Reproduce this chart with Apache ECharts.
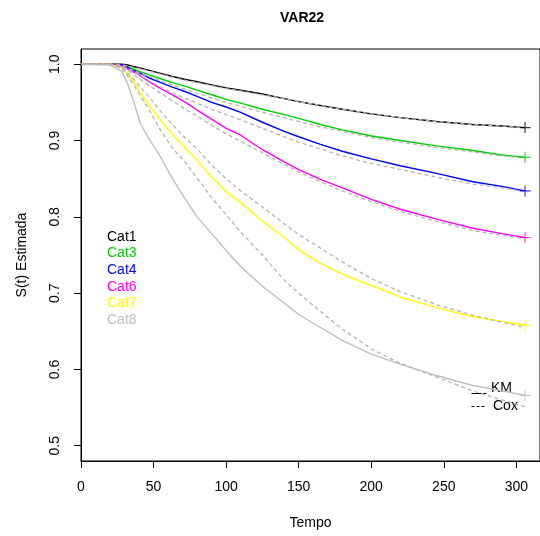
<!DOCTYPE html>
<html>
<head>
<meta charset="utf-8">
<script src="https://cdn.jsdelivr.net/npm/echarts@6/dist/echarts.min.js"></script>
<style>
html,body{margin:0;padding:0;background:#fff;}
#chart{width:540px;height:536px;}
</style>
</head>
<body>
<div id="chart"></div>
<script>
// ---- data ----
const titulo = 'VAR22';
const categorias = ['Cat1', 'Cat3', 'Cat4', 'Cat6', 'Cat7', 'Cat8'];
const cores = ['#000000', '#00CD00', '#0000FF', '#FF00FF', '#FFFF00', '#BEBEBE'];
const xTicks = [0, 50, 100, 150, 200, 250, 300];
const yTicks = [0.5, 0.6, 0.7, 0.8, 0.9, 1.0];
const tempo = [0, 20, 28, 32, 36, 41, 47, 55, 63, 72, 80, 90, 100, 110, 125, 140, 150, 165, 180, 200, 220, 245, 270, 290, 306];

// Kaplan-Meier (solid)
const km_Cat1 = [1, 1, 1.0, 0.999, 0.997, 0.995, 0.992, 0.988, 0.984, 0.980, 0.977, 0.973, 0.969, 0.966, 0.961, 0.955, 0.951, 0.946, 0.941, 0.935, 0.930, 0.925, 0.921, 0.919, 0.917];
const km_Cat3 = [1, 1, 0.999, 0.997, 0.994, 0.990, 0.986, 0.981, 0.976, 0.971, 0.966, 0.960, 0.954, 0.949, 0.941, 0.934, 0.929, 0.921, 0.914, 0.906, 0.900, 0.893, 0.887, 0.881, 0.878];
const km_Cat4 = [1, 1, 0.999, 0.996, 0.992, 0.988, 0.982, 0.976, 0.970, 0.964, 0.958, 0.950, 0.944, 0.937, 0.924, 0.912, 0.905, 0.895, 0.886, 0.876, 0.867, 0.857, 0.846, 0.840, 0.834];
const km_Cat6 = [1, 1, 0.998, 0.994, 0.990, 0.985, 0.977, 0.968, 0.960, 0.950, 0.940, 0.928, 0.916, 0.907, 0.888, 0.872, 0.862, 0.849, 0.838, 0.823, 0.810, 0.797, 0.785, 0.778, 0.773];
const km_Cat7 = [1, 1, 0.995, 0.987, 0.978, 0.962, 0.945, 0.926, 0.908, 0.890, 0.874, 0.852, 0.833, 0.819, 0.794, 0.773, 0.757, 0.739, 0.725, 0.710, 0.695, 0.681, 0.669, 0.663, 0.658];
const km_Cat8 = [1, 0.999, 0.991, 0.975, 0.953, 0.922, 0.902, 0.878, 0.850, 0.823, 0.800, 0.778, 0.756, 0.735, 0.709, 0.687, 0.672, 0.655, 0.638, 0.620, 0.607, 0.592, 0.579, 0.572, 0.566];

// Cox model (dashed grey)
const cox_Cat1 = [1, 1, 0.999, 0.998, 0.996, 0.994, 0.991, 0.987, 0.983, 0.979, 0.976, 0.972, 0.968, 0.965, 0.960, 0.955, 0.951, 0.946, 0.941, 0.935, 0.930, 0.925, 0.921, 0.919, 0.917];
const cox_Cat3 = [1, 1, 0.998, 0.995, 0.992, 0.988, 0.984, 0.978, 0.973, 0.967, 0.962, 0.956, 0.950, 0.945, 0.937, 0.930, 0.925, 0.918, 0.912, 0.904, 0.898, 0.891, 0.885, 0.880, 0.877];
const cox_Cat4 = [1, 1, 0.998, 0.994, 0.990, 0.985, 0.978, 0.970, 0.963, 0.955, 0.949, 0.941, 0.934, 0.927, 0.916, 0.905, 0.898, 0.889, 0.880, 0.870, 0.862, 0.852, 0.843, 0.838, 0.833];
const cox_Cat6 = [1, 1, 0.997, 0.992, 0.987, 0.980, 0.972, 0.962, 0.952, 0.941, 0.932, 0.920, 0.909, 0.899, 0.884, 0.869, 0.859, 0.846, 0.834, 0.820, 0.807, 0.794, 0.782, 0.776, 0.771];
const cox_Cat7 = [1, 1, 0.996, 0.989, 0.981, 0.970, 0.957, 0.938, 0.921, 0.903, 0.889, 0.868, 0.850, 0.834, 0.813, 0.791, 0.777, 0.759, 0.741, 0.719, 0.702, 0.685, 0.671, 0.662, 0.655];
const cox_Cat8 = [1, 1, 0.995, 0.985, 0.974, 0.958, 0.940, 0.913, 0.890, 0.871, 0.851, 0.825, 0.803, 0.780, 0.750, 0.717, 0.700, 0.676, 0.653, 0.627, 0.608, 0.590, 0.572, 0.560, 0.551];

const kmList = [km_Cat1, km_Cat3, km_Cat4, km_Cat6, km_Cat7, km_Cat8];
const coxList = [cox_Cat1, cox_Cat3, cox_Cat4, cox_Cat6, cox_Cat7, cox_Cat8];

// ---- build chart ----
const FONT = '"Liberation Sans", Arial, sans-serif';
const zip = (t, v) => t.map((x, i) => [x, v[i]]);
const plusPath = 'path://M-1,-10 L1,-10 L1,-1 L10,-1 L10,1 L1,1 L1,10 L-1,10 L-1,1 L-10,1 L-10,-1 L-1,-1 Z';

const series = [];
categorias.forEach((c, i) => {
  series.push({
    name: c, type: 'line', data: zip(tempo, kmList[i]), showSymbol: false, silent: true,
    lineStyle: { color: cores[i], width: 1.4 }, z: 2
  });
});
categorias.forEach((c, i) => {
  series.push({
    name: c + ' Cox', type: 'line', data: zip(tempo, coxList[i]), showSymbol: false, silent: true,
    lineStyle: { color: '#B4B4B4', width: 1.3, type: [4, 3] }, z: 3
  });
});
categorias.forEach((c, i) => {
  const n = tempo.length - 1;
  series.push({
    name: c + ' censor', type: 'scatter', data: [[tempo[n], kmList[i][n]]], silent: true,
    symbol: plusPath, symbolSize: 11, itemStyle: { color: cores[i] }, z: 4
  });
});

const graphics = [
  { type: 'text', left: 310 - 30, top: 11, style: { text: titulo, font: 'bold 14px ' + FONT, fill: '#000', width: 60, align: 'center' } }
];
categorias.forEach((c, i) => {
  graphics.push({
    type: 'text', x: 107, y: 236.7 + i * 16.66,
    style: { text: c, font: '14px ' + FONT, fill: cores[i], verticalAlign: 'middle', align: 'left' }
  });
});
graphics.push(
  { type: 'line', shape: { x1: 471.5, y1: 393.5, x2: 486.5, y2: 393.5 }, style: { stroke: '#000', lineWidth: 1 } },
  { type: 'text', x: 491, y: 388, style: { text: 'KM', font: '14px ' + FONT, fill: '#000', verticalAlign: 'middle' } },
  { type: 'line', shape: { x1: 471.5, y1: 406.5, x2: 486.5, y2: 406.5 }, style: { stroke: '#000', lineWidth: 1, lineDash: [3, 2] } },
  { type: 'text', x: 493, y: 406, style: { text: 'Cox', font: '14px ' + FONT, fill: '#000', verticalAlign: 'middle' } }
);

const chart = echarts.init(document.getElementById('chart'), null, { renderer: 'canvas' });
chart.setOption({
  animation: false,
  backgroundColor: '#fff',
  textStyle: { fontFamily: FONT },
  grid: { left: 81, top: 49, right: -2, bottom: 75, show: true, borderColor: '#000', borderWidth: 1, backgroundColor: 'transparent' },
  xAxis: {
    type: 'value', min: 0, max: 316.3,
    name: 'Tempo', nameLocation: 'middle', nameGap: 55,
    nameTextStyle: { fontSize: 14, color: '#000', fontFamily: FONT },
    axisLine: { show: true, lineStyle: { color: '#000', width: 1 } },
    axisTick: { show: true, length: 7, lineStyle: { color: '#000' }, customValues: xTicks },
    axisLabel: { customValues: xTicks, fontSize: 14, color: '#000', margin: 19, fontFamily: FONT },
    splitLine: { show: false }
  },
  yAxis: {
    type: 'value', min: 0.48, max: 1.02,
    name: 'S(t) Estimada', nameLocation: 'middle', nameGap: 52,
    nameTextStyle: { fontSize: 14, color: '#000', fontFamily: FONT },
    axisLine: { show: true, lineStyle: { color: '#000', width: 1 } },
    axisTick: { show: true, length: 7, lineStyle: { color: '#000' }, customValues: yTicks },
    axisLabel: { customValues: yTicks, fontSize: 14, color: '#000', margin: 19, rotate: 90, fontFamily: FONT,
      formatter: v => v.toFixed(1) },
    splitLine: { show: false }
  },
  graphic: graphics,
  series: series
});
</script>
</body>
</html>
